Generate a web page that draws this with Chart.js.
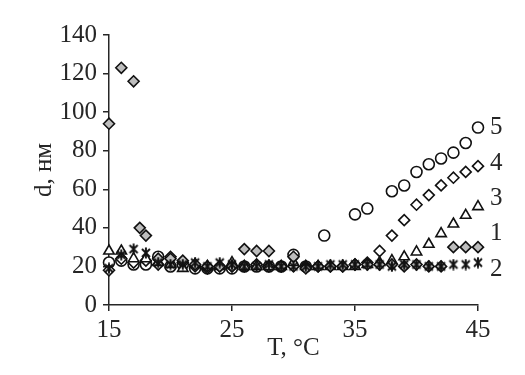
<!DOCTYPE html>
<html>
<meta charset="utf-8" />
<style>
	html, body {
		width: 100%;
		height: 100%;
		margin: 0;
		padding: 0;
		overflow: hidden;
		background: #fff;
	}
	#wrap {
		position: absolute;
		left: 0;
		top: 0;
		width: 525px;
		height: 375px;
	}
</style>
<script src="https://cdn.jsdelivr.net/npm/chart.js"></script>
<script>

	// temperature, degrees C
	var temps = [15,16,17,18,19,20,21,22,23,24,25,26,27,28,29,30,31,32,33,34,35,36,37,38,39,40,41,42,43,44,45];

	// curve 1 (grey diamonds)
	var temps1 = [15,16,17,17.5,18,19,20,21,22,23,24,25,26,27,28,29,30,31,32,33,34,35,36,37,38,39,40,41,42,43,44,45];
	var size1 = [94,123,116,40,36,24,24,23,21,20,20,20,29,28,28,20,25,19,20,20,20,21,21,21,21,20,21,20,20,30,30,30];

	// curve 2 (stars)
	var size2 = [19,26,29,27,22,21,21,22,20,22,21,20,20,21,20,20,20,20,21,21,21,21,21,20,21,21,20,20,21,21,22];

	// curve 3 (triangles)
	var size3 = [28,28,24,24,22,21,19,21,20,20,22,20,20,20,20,22,20,20,20,20,20,21,22,23,25,27.5,31.5,37,42,46.5,51];

	// curve 4 (open diamonds)
	var size4 = [18,24,22,23,21,25,22,20,19,20,20,20,21,20,20,20,20,20,20,20,21,22,28,36,44,52,57,62,66,69,72];

	// curve 5 (circles)
	var temps5 = [15,16,17,18,19,20,21,22,23,24,25,26,27,28,29,30,31,32.5,35,36,38,39,40,41,42,43,44,45];
	var size5 = [22,23,21,21,25,20,21,19,19,19,19,20,20,20,20,26,20,36,47,50,59,62,69,73,76,79,84,92];

	// curve numbers on the right
	var curveNames = ['5','4','3','1','2'];
	var curveNameY = [92, 73.5, 55, 37, 18.5];

	var yTicks = [0,20,40,60,80,100,120,140];
	var xTicks = [15,25,35,45];

	function pts(xs, ys) {
		var out = [];
		for (var i = 0; i < ys.length; i++) out.push({x: xs[i], y: ys[i]});
		return out;
	}

	// star marker like Excel's
	function starMarker() {
		var c = document.createElement('canvas');
		c.width = 12; c.height = 12;
		var g = c.getContext('2d');
		g.strokeStyle = '#111';
		g.lineWidth = 1.9;
		g.beginPath();
		g.moveTo(2, 2); g.lineTo(10, 10);
		g.moveTo(10, 2); g.lineTo(2, 10);
		g.moveTo(6, 0.5); g.lineTo(6, 11.5);
		g.stroke();
		return c;
	}

	var font = "'Liberation Serif', 'Times New Roman', serif";
	var ink = '#262626';
	var fsize = 25;

	var extraText = {
		id: 'extraText',
		afterDraw: function (chart) {
			var ctx = chart.ctx;
			var area = chart.chartArea;
			var ys = chart.scales.y;
			ctx.save();
			ctx.fillStyle = ink;
			ctx.font = fsize + 'px ' + font;
			// curve numbers
			ctx.textAlign = 'left';
			ctx.textBaseline = 'middle';
			for (var i = 0; i < curveNames.length; i++) {
				ctx.fillText(curveNames[i], area.right + 12, ys.getPixelForValue(curveNameY[i]));
			}
			// x title
			ctx.textAlign = 'center';
			ctx.fillText('T, °C', (area.left + area.right) / 2, area.bottom + 43);
			// y title
			ctx.translate(44, (area.top + area.bottom) / 2);
			ctx.rotate(-Math.PI / 2);
			ctx.fillText('d, нм', 0, 0);
			ctx.restore();
		}
	};

	window.onload = function () {

		var data = {
			datasets: [
				{
					label: '1',
					data: pts(temps1, size1),
					pointStyle: 'rectRot',
					pointRadius: 5.5,
					backgroundColor: '#bdbdbd',
					borderColor: '#111',
					borderWidth: 1.6,
					order: 1,
					clip: false
				},
				{
					label: '2',
					data: pts(temps, size2),
					pointStyle: starMarker(),
					pointRadius: 5,
					borderColor: '#111',
					order: 0,
					clip: false
				},
				{
					label: '3',
					data: pts(temps, size3),
					pointStyle: 'triangle',
					pointRadius: 6,
					backgroundColor: '#fff',
					borderColor: '#111',
					borderWidth: 1.6,
					order: 2,
					clip: false
				},
				{
					label: '4',
					data: pts(temps, size4),
					pointStyle: 'rectRot',
					pointRadius: 5.5,
					backgroundColor: '#fff',
					borderColor: '#111',
					borderWidth: 1.6,
					order: 3,
					clip: false
				},
				{
					label: '5',
					data: pts(temps5, size5),
					pointStyle: 'circle',
					pointRadius: 5.5,
					backgroundColor: '#fff',
					borderColor: '#111',
					borderWidth: 1.6,
					order: 4,
					clip: false
				}
			]
		};

		var config = {
			type: 'scatter',
			data: data,
			options: {
				responsive: false,
				animation: false,
				events: [],
				plugins: {
					legend: { display: false },
					tooltip: { enabled: false }
				},
				layout: {
					padding: { left: 0, right: 47, top: 35, bottom: 0 }
				},
				scales: {
					x: {
						type: 'linear',
						min: 15,
						max: 45,
						afterBuildTicks: function (s) { s.ticks = xTicks.map(function (v) { return {value: v}; }); },
						afterFit: function (s) { s.height = 70; },
						border: { color: ink, width: 1.5 },
						grid: { drawOnChartArea: false, tickLength: 6, color: ink, lineWidth: 1.5 },
						ticks: { color: ink, padding: 4, font: { family: font, size: fsize }, maxRotation: 0 }
					},
					y: {
						min: 0,
						max: 140,
						afterBuildTicks: function (s) { s.ticks = yTicks.map(function (v) { return {value: v}; }); },
						afterFit: function (s) { s.width = 109; },
						border: { color: ink, width: 1.5 },
						grid: { drawOnChartArea: false, tickLength: 6, color: ink, lineWidth: 1.5 },
						ticks: { color: ink, padding: 6, font: { family: font, size: fsize } }
					}
				}
			},
			plugins: [extraText]
		};

		new Chart(document.getElementById('myChart'), config);
	};

</script>
<body>
	<div id="wrap">
		<canvas id="myChart" width="525" height="375"></canvas>
	</div>
</body>
</html>
